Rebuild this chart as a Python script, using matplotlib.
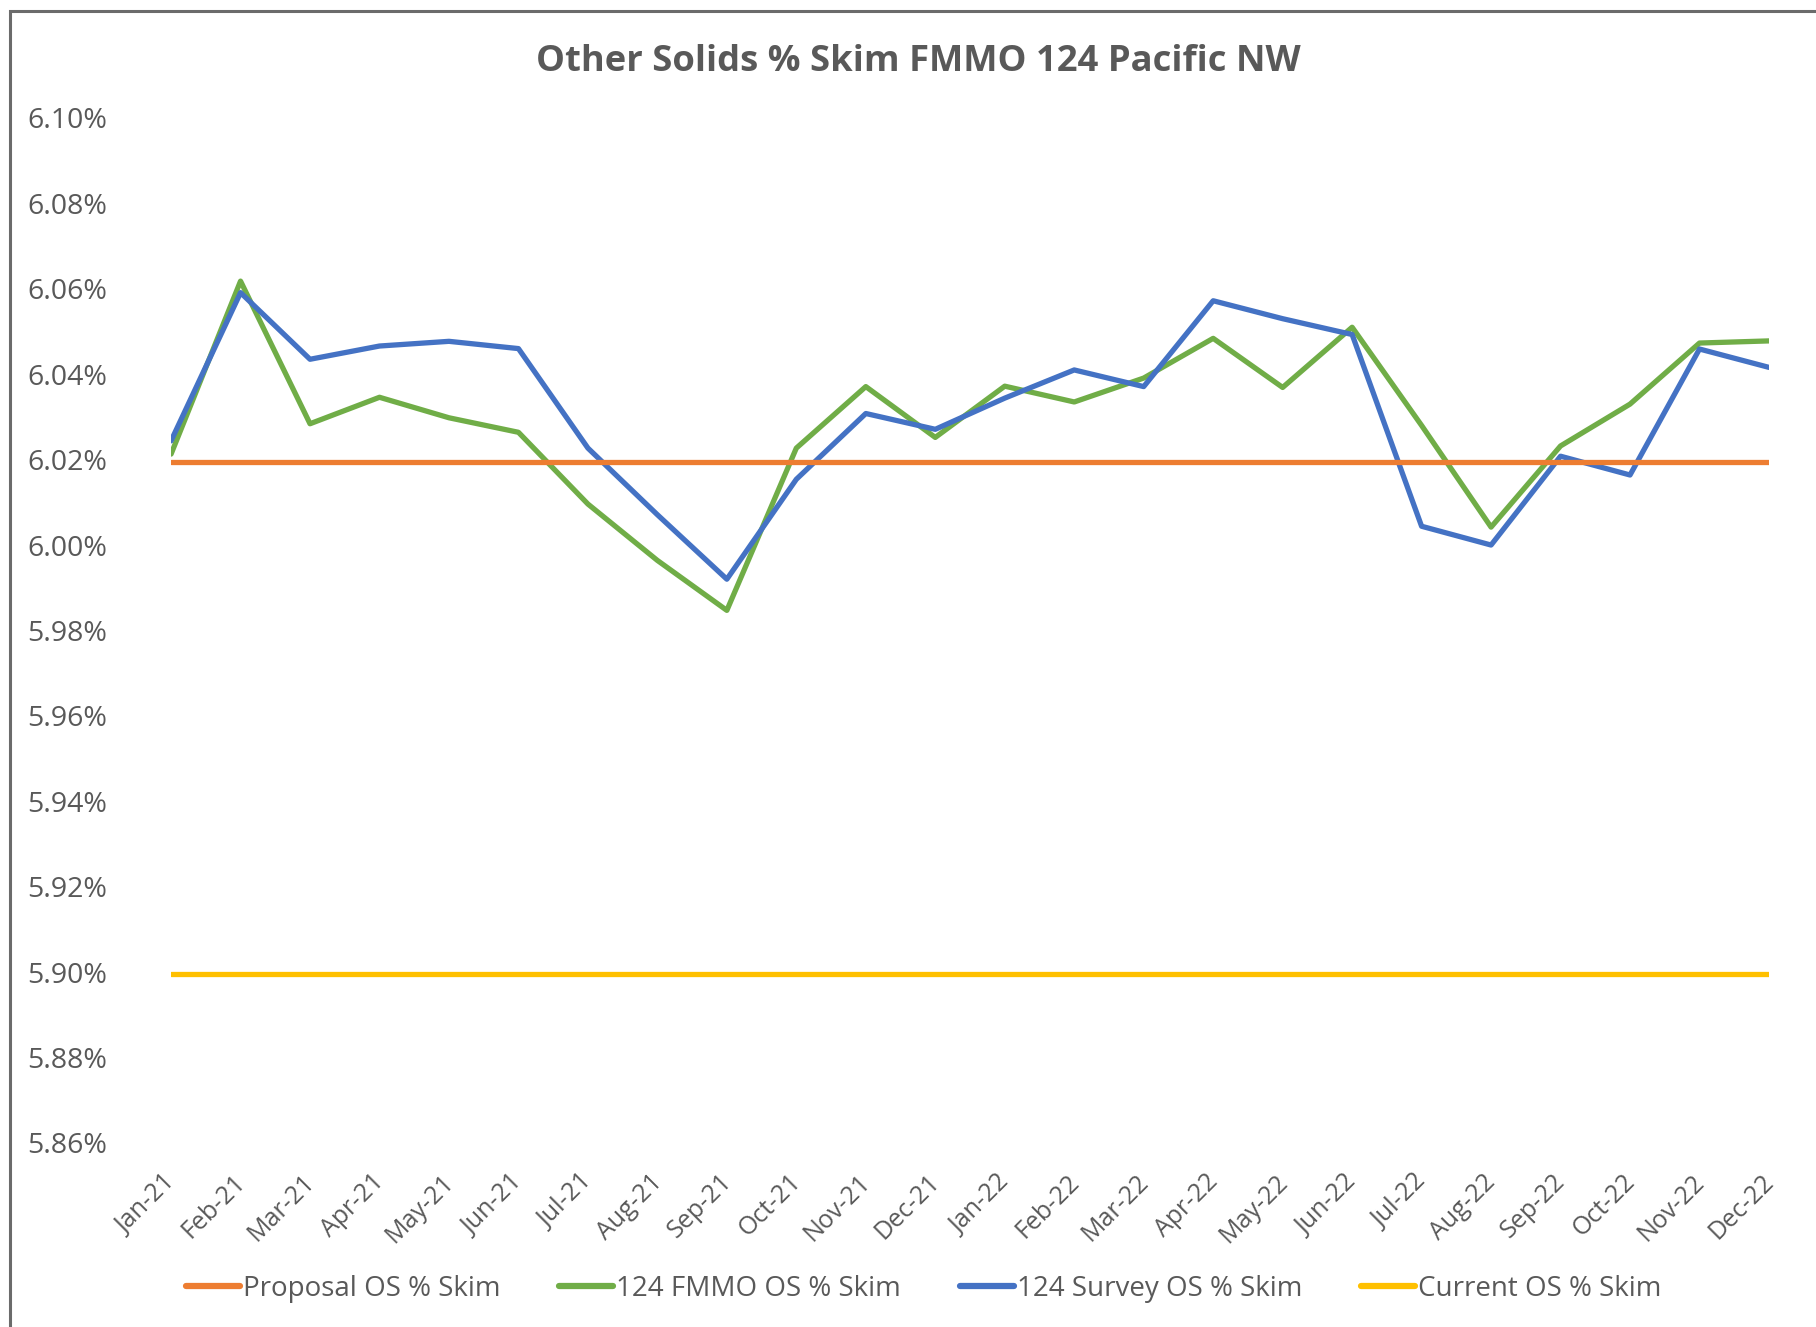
import matplotlib
matplotlib.use("Agg")
import matplotlib.pyplot as plt
from matplotlib.patches import Rectangle
from matplotlib.ticker import FuncFormatter
from matplotlib.transforms import ScaledTranslation

months = ["Jan-21", "Feb-21", "Mar-21", "Apr-21", "May-21", "Jun-21", "Jul-21", "Aug-21",
          "Sep-21", "Oct-21", "Nov-21", "Dec-21", "Jan-22", "Feb-22", "Mar-22", "Apr-22",
          "May-22", "Jun-22", "Jul-22", "Aug-22", "Sep-22", "Oct-22", "Nov-22", "Dec-22"]
proposal = [6.0195] * 24
fmmo = [6.0213, 6.0618, 6.0284, 6.0346, 6.0298, 6.0264, 6.0096, 5.9964, 5.9847, 6.0227,
        6.0371, 6.0252, 6.0372, 6.0335, 6.0391, 6.0484, 6.0369, 6.0510, 6.0280, 6.0042,
        6.0232, 6.0330, 6.0473, 6.0478]
survey = [6.0244, 6.0591, 6.0435, 6.0466, 6.0477, 6.0460, 6.0227, 6.0071, 5.9920, 6.0154,
          6.0308, 6.0271, 6.0344, 6.0410, 6.0371, 6.0572, 6.0530, 6.0493, 6.0044, 6.0000,
          6.0208, 6.0164, 6.0459, 6.0416]
current = [5.8995] * 24
yticks = [5.86, 5.88, 5.90, 5.92, 5.94, 5.96, 5.98, 6.00, 6.02, 6.04, 6.06, 6.08, 6.10]

plt.rcParams["font.family"] = ["Open Sans", "DejaVu Sans"]
GREY = "#595959"

fig = plt.figure(figsize=(18.16, 13.27), dpi=100)
ax = fig.add_axes([0.0942, 0.1387, 0.8799, 0.7724])
x = range(len(months))
lw = 3.8
ax.plot(x, fmmo, color="#70AD47", lw=lw, solid_capstyle="round", solid_joinstyle="round",
        label="124 FMMO OS % Skim", zorder=2)
ax.plot(x, survey, color="#4472C4", lw=lw, solid_capstyle="round", solid_joinstyle="round",
        label="124 Survey OS % Skim", zorder=3)
ax.plot(x, current, color="#FFC000", lw=lw, solid_capstyle="round",
        label="Current OS % Skim", zorder=2)
ax.plot(x, proposal, color="#ED7D31", lw=lw, solid_capstyle="round",
        label="Proposal OS % Skim", zorder=4)

ax.set_xlim(0, len(months) - 1)
ax.set_ylim(5.86, 6.10)
ax.set_yticks(yticks)
ax.yaxis.set_major_formatter(FuncFormatter(lambda v, p: f"{v:.2f}%"))
ax.set_xticks(list(x))
ax.set_xticklabels(months, rotation=45, ha="right", va="top")
ax.tick_params(axis="y", length=0, pad=46, labelsize=20.5, labelcolor=GREY)
ax.tick_params(axis="x", length=0, pad=14, labelsize=18, labelcolor=GREY)
shift = ScaledTranslation(10 / 100, -7 / 100, fig.dpi_scale_trans)
for lab in ax.get_xticklabels():
    lab.set_transform(lab.get_transform() + shift)
for s in ax.spines.values():
    s.set_visible(False)
ax.patch.set_visible(False)

fig.text(0.5055, 0.953, "Other Solids % Skim FMMO 124 Pacific NW", ha="center", va="center",
         fontsize=26.2, fontweight="bold", color=GREY)

h, l = ax.get_legend_handles_labels()
order = [3, 0, 1, 2]
leg = fig.legend([h[i] for i in order], [l[i] for i in order], loc="center",
                 bbox_to_anchor=(0.5086, 0.029), ncol=4, frameon=False, fontsize=20,
                 labelcolor=GREY, handlelength=1.95, handletextpad=0.12, columnspacing=2.1)
for ln in leg.get_lines():
    ln.set_linewidth(4.5)

fig.patches.append(Rectangle((10 / 1816, -0.1), 1.2, 1 - 11 / 1327 + 0.1,
                             transform=fig.transFigure, fill=False, edgecolor="#6b6b6b",
                             lw=2.2, clip_on=False))

fig.savefig("out.png", dpi=100)
